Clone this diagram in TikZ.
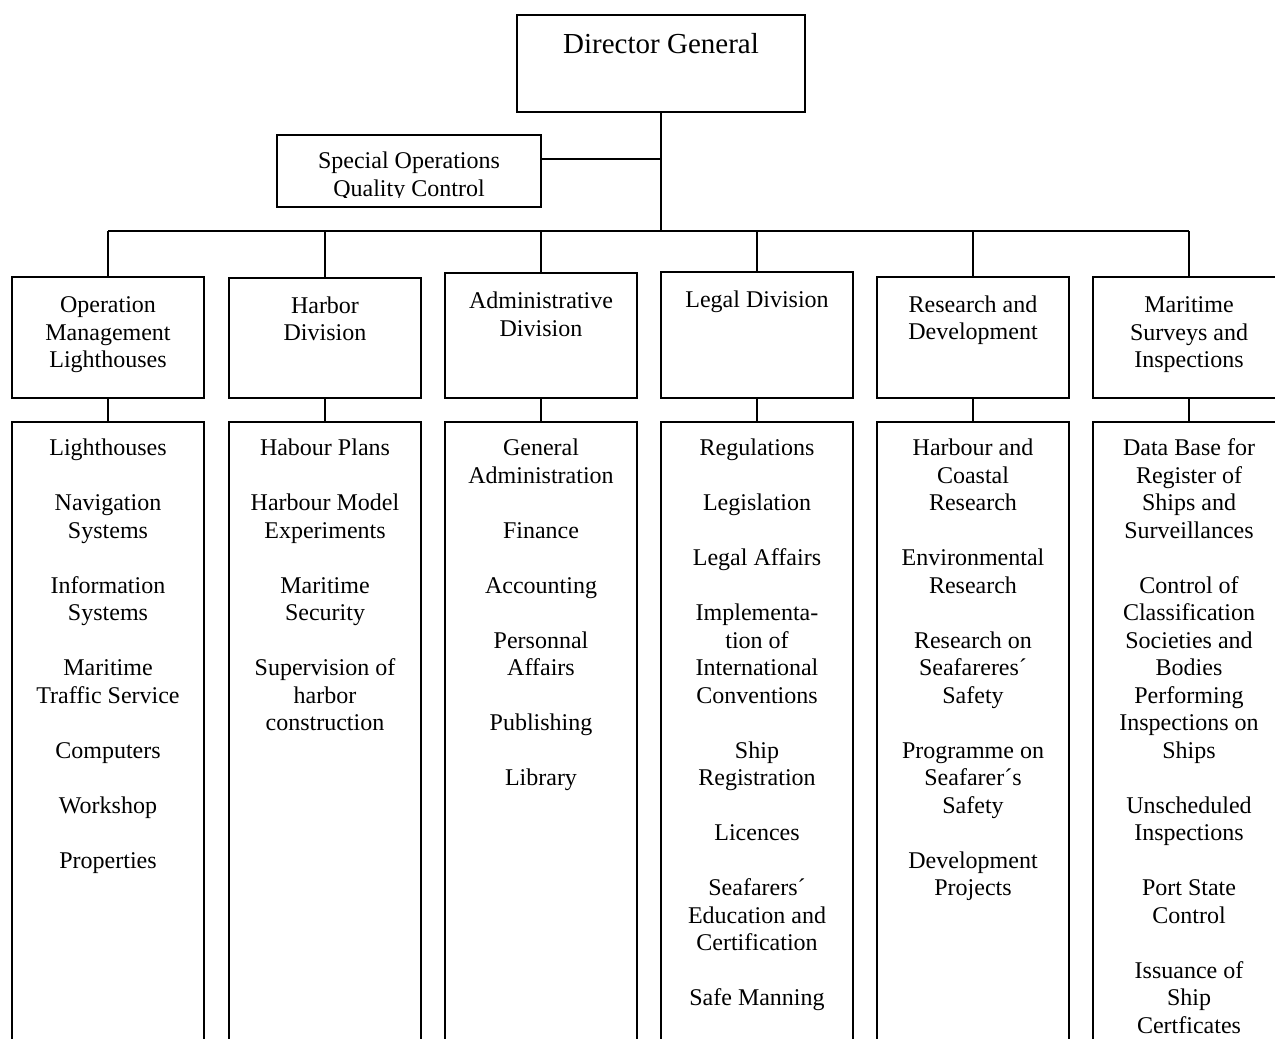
\documentclass[tikz,border=0pt]{standalone}
\usepackage{fontspec}
\setmainfont{Liberation Serif}
\newcommand\textlines[4]{% #1 name, #2 x, #3 first y, #4 list index/text
  \foreach \k/\t in {#4} {\node[lbl] (#1-\k) at (#2,{#3+2.5+27.5*\k}) {\t};}}
\begin{document}
\begin{tikzpicture}[x=1pt,y=-1pt,
  box/.style={draw, line width=1.8pt, inner sep=0pt, minimum width=192pt},
  lbl/.style={inner sep=0pt, font=\fontsize{24}{27.5}\selectfont, text height=17pt, text depth=5pt},
  wire/.style={line width=1.8pt}]
\path[use as bounding box] (0,0) rectangle (1275,1039);
\clip (0,0) rectangle (1275,1039);

% Director General
\node[box, minimum width=288pt, minimum height=97pt] (dg) at (661,63.5) {};
\node[lbl, font=\fontsize{29}{33}\selectfont] (dgt) at (661,47) {Director General};

% Special operations
\node[box, minimum width=264pt, minimum height=72pt] (so) at (409,171) {};
\begin{scope}
  \clip (so.north west) rectangle (so.east |- 0,197.5);
  \node[lbl] (so-0) at (409,162.5) {Special Operations};
  \node[lbl] (so-1) at (409,190) {Quality Control};
\end{scope}

\coordinate (hub) at (661,231);
\draw[wire] (dg.south) -- (hub);
\path ([yshift=12pt]so.east) coordinate (soj);
\draw[wire] (soj) -- (soj -| dg.south);

% divisions and their lists
\foreach \n/\cx/\tp in {1/108/278, 2/325/279, 3/541/274, 4/757/273, 5/973/278, 6/1189/278} {
  \node[box, minimum height={(399-\tp)*1pt}, anchor=south] (d\n) at (\cx,399) {};
  \node[box, minimum height=700pt, anchor=north] (s\n) at (\cx,421) {};
  \draw[wire] (d\n.north) -- (d\n.north |- hub);
  \draw[wire] (d\n.south) -- (s\n.north);
}
\draw[wire] (d1.north |- hub) -- (d6.north |- hub);

% division titles
\textlines{h1}{108}{304}{0/Operation, 1/Management, 2/Lighthouses}
\textlines{h2}{325}{304.5}{0/Harbor, 1/Division}
\textlines{h3}{541}{300}{0/Administrative, 1/Division}
\textlines{h4}{757}{299}{0/Legal Division}
\textlines{h5}{973}{303.5}{0/Research and, 1/Development}
\textlines{h6}{1189}{304}{0/Maritime, 1/Surveys and, 2/Inspections}

% lists
\textlines{c1}{108}{447}{0/Lighthouses, 2/Navigation, 3/Systems, 5/Information, 6/Systems,
  8/Maritime, 9/Traffic Service, 11/Computers, 13/Workshop, 15/Properties}
\textlines{c2}{325}{447}{0/Habour Plans, 2/Harbour Model, 3/Experiments, 5/Maritime, 6/Security,
  8/Supervision of, 9/harbor, 10/construction}
\textlines{c3}{541}{447}{0/General, 1/Administration, 3/Finance, 5/Accounting, 7/Personnal,
  8/Affairs, 10/Publishing, 12/Library}
\textlines{c4}{757}{447}{0/Regulations, 2/Legislation, 4/Legal Affairs, 6/Implementa-, 7/tion of,
  8/International, 9/Conventions, 11/Ship, 12/Registration, 14/Licences, 16/Seafarers´,
  17/Education and, 18/Certification, 20/Safe Manning}
\textlines{c5}{973}{447}{0/Harbour and, 1/Coastal, 2/Research, 4/Environmental, 5/Research,
  7/Research on, 8/Seafareres´, 9/Safety, 11/Programme on, 12/Seafarer´s, 13/Safety,
  15/Development, 16/Projects}
\textlines{c6}{1189}{447}{0/Data Base for, 1/Register of, 2/Ships and, 3/Surveillances,
  5/Control of, 6/Classification, 7/Societies and, 8/Bodies, 9/Performing, 10/Inspections on,
  11/Ships, 13/Unscheduled, 14/Inspections, 16/Port State, 17/Control, 19/Issuance of,
  20/Ship, 21/Certficates}
\end{tikzpicture}
\end{document}
